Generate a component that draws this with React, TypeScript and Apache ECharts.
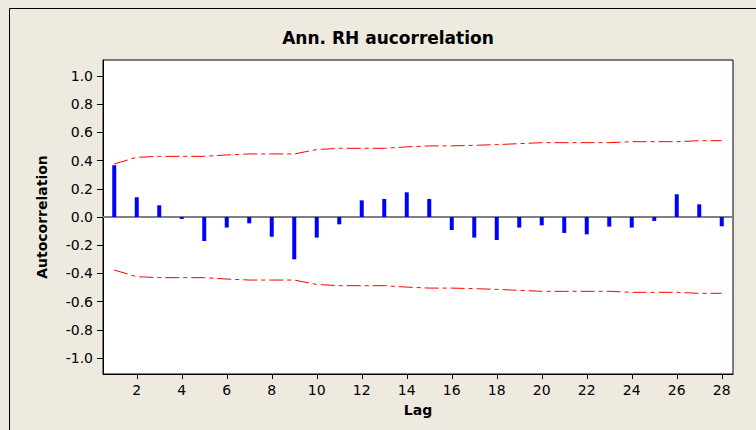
import React, { useEffect, useRef } from "react";
import * as echarts from "echarts";

const lags = [1, 2, 3, 4, 5, 6, 7, 8, 9, 10, 11, 12, 13, 14, 15, 16, 17, 18, 19, 20, 21, 22, 23, 24, 25, 26, 27, 28];
const acf = [0.367, 0.14, 0.083, -0.014, -0.17, -0.075, -0.045, -0.14, -0.3, -0.146, -0.052, 0.118, 0.128, 0.175,
  0.128, -0.092, -0.146, -0.163, -0.075, -0.059, -0.113, -0.123, -0.068, -0.075, -0.028, 0.161, 0.09, -0.066];
const upperLimit = [0.376, 0.423, 0.43, 0.43, 0.43, 0.44, 0.447, 0.447, 0.447, 0.478, 0.487, 0.487, 0.487, 0.497,
  0.504, 0.504, 0.508, 0.513, 0.52, 0.527, 0.527, 0.527, 0.527, 0.534, 0.534, 0.534, 0.541, 0.541];
const xTicks = [2, 4, 6, 8, 10, 12, 14, 16, 18, 20, 22, 24, 26, 28];
const yTicks = [-1.0, -0.8, -0.6, -0.4, -0.2, 0.0, 0.2, 0.4, 0.6, 0.8, 1.0];

const titleText = "Ann. RH aucorrelation";
const xName = "Lag";
const yName = "Autocorrelation";

export default function App() {
  const ref = useRef<HTMLDivElement>(null);
  useEffect(() => {
    if (!ref.current) return;
    const chart = echarts.init(ref.current, null, { renderer: "svg" });
    const font = "DejaVu Sans, Verdana, sans-serif";
    const limitStyle = { color: "#ff0000", width: 1, type: [14, 4, 4, 4] as any };
    chart.setOption({
      animation: false,
      backgroundColor: "#EEEAE0",
      textStyle: { fontFamily: font },
      graphic: [
        {
          type: "rect",
          shape: { x: 9.5, y: 8.5, width: 780, height: 460 },
          style: { fill: "none", stroke: "#000", lineWidth: 1 },
          silent: true,
          z: 100,
        },
        {
          type: "text",
          x: 388,
          y: 38,
          style: {
            text: titleText,
            fontFamily: "DejaVu Sans, sans-serif",
            fontWeight: "bold",
            fontSize: 17,
            fill: "#000",
            align: "center",
            verticalAlign: "middle",
          },
        },
      ],
      grid: {
        left: 103,
        top: 60,
        right: 23,
        bottom: 56,
        show: true,
        backgroundColor: "#ffffff",
        borderColor: "#000",
        borderWidth: 1,
      },
      xAxis: {
        type: "value",
        min: 0.5,
        max: 28.5,
        name: xName,
        nameLocation: "middle",
        nameGap: 29,
        nameTextStyle: { fontFamily: font, fontWeight: "bold", fontSize: 14, color: "#000" },
        axisLine: { show: true, onZero: false, lineStyle: { color: "#000", width: 1 } },
        axisTick: { show: true, customValues: xTicks, length: 5, lineStyle: { color: "#000" } },
        axisLabel: {
          customValues: xTicks,
          color: "#000",
          fontSize: 14,
          fontFamily: font,
          margin: 9,
        },
        splitLine: { show: false },
      },
      yAxis: {
        type: "value",
        min: -1.113,
        max: 1.113,
        name: yName,
        nameLocation: "middle",
        nameGap: 54,
        nameRotate: 90,
        nameTextStyle: { fontFamily: font, fontWeight: "bold", fontSize: 14, color: "#000" },
        axisLine: { show: true, lineStyle: { color: "#000", width: 1 } },
        axisTick: { show: true, customValues: yTicks, length: 6, lineStyle: { color: "#000" } },
        axisLabel: {
          customValues: yTicks,
          color: "#000",
          fontSize: 14,
          fontFamily: font,
          margin: 10,
          formatter: (v: number) => v.toFixed(1),
        },
        splitLine: { show: false },
      },
      series: [
        {
          type: "bar",
          data: lags.map((l, i) => [l, acf[i]]),
          barWidth: 4,
          itemStyle: { color: "#0000ff" },
          markLine: {
            silent: true,
            symbol: "none",
            label: { show: false },
            lineStyle: { color: "#808080", width: 2, type: "solid" },
            data: [{ yAxis: 0 }],
            z: 1,
          },
          z: 3,
        },
        {
          type: "line",
          data: lags.map((l, i) => [l, upperLimit[i]]),
          symbol: "none",
          lineStyle: limitStyle,
          z: 4,
        },
        {
          type: "line",
          data: lags.map((l, i) => [l, -upperLimit[i]]),
          symbol: "none",
          lineStyle: limitStyle,
          z: 4,
        },
      ],
    });
    return () => chart.dispose();
  }, []);
  return (
    <div
      ref={ref}
      style={{ position: "absolute", left: 0, top: 0, width: 756, height: 430 }}
    />
  );
}
